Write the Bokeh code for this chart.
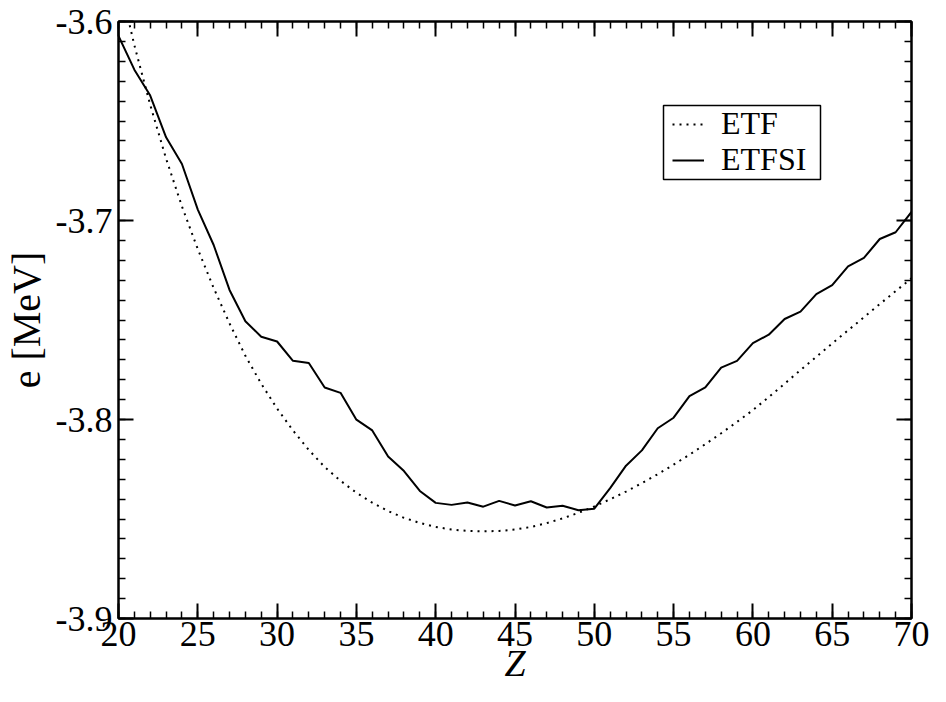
from bokeh.plotting import figure
from bokeh.models import (LinearAxis, FixedTicker, Range1d, Legend, LegendItem,
                          PrintfTickFormatter, BoxAnnotation)
from bokeh.embed import file_html
from bokeh.resources import INLINE

Z = list(range(20, 71))

etf = [-3.5779, -3.6119, -3.6419, -3.6689, -3.6929, -3.7144, -3.7339, -3.7517, -3.7680, -3.7820,
       -3.7945, -3.8055, -3.8153, -3.8239, -3.8308, -3.8368, -3.8418, -3.8460, -3.8494, -3.8520,
       -3.8540, -3.8553, -3.8560, -3.8562, -3.8560, -3.8553, -3.8540, -3.8521, -3.8497, -3.8469,
       -3.8437, -3.8401, -3.8362, -3.8320, -3.8275, -3.8227, -3.8177, -3.8124, -3.8069, -3.8012,
       -3.7953, -3.7887, -3.7820, -3.7752, -3.7685, -3.7618, -3.7552, -3.7486, -3.7420, -3.7355,
       -3.7290]

etfsi = [-3.6073, -3.6242, -3.6372, -3.6582, -3.6716, -3.6945, -3.7123, -3.7349, -3.7506, -3.7584,
         -3.7608, -3.7705, -3.7716, -3.7839, -3.7866, -3.8001, -3.8055, -3.8186, -3.8259, -3.8359,
         -3.8419, -3.8429, -3.8417, -3.8438, -3.8409, -3.8432, -3.8411, -3.8442, -3.8433, -3.8456,
         -3.8448, -3.8345, -3.8232, -3.8155, -3.8044, -3.7991, -3.7883, -3.7839, -3.7739, -3.7705,
         -3.7616, -3.7574, -3.7495, -3.7458, -3.7370, -3.7325, -3.7231, -3.7188, -3.7093, -3.7059,
         -3.6957]

series_names = ["ETF", "ETFSI"]
x_major = [20, 25, 30, 35, 40, 45, 50, 55, 60, 65, 70]
x_minor = list(range(20, 71))
y_major = [-3.9, -3.8, -3.7, -3.6]
y_minor = [round(-3.9 + 0.01 * i, 2) for i in range(31)]

FONT = "Liberation Serif"
QFONT = "'Liberation Serif'"
TICK_SIZE = "36px"

W, H = 930, 686
BORDER_BOTTOM = 68
FB = H - BORDER_BOTTOM  # frame bottom on the canvas

p = figure(width=W, height=H, output_backend="svg", toolbar_location=None,
           x_range=Range1d(20, 70), y_range=Range1d(-3.9, -3.6),
           x_axis_location=None, y_axis_location=None)
p.min_border_left = 118
p.min_border_right = 19
p.min_border_top = 21
p.min_border_bottom = BORDER_BOTTOM
p.grid.visible = False
p.outline_line_color = "black"
p.outline_line_width = 2
p.background_fill_color = "white"
p.border_fill_color = "white"

def style_axis(ax, show_labels):
    ax.axis_line_width = 2
    ax.axis_line_color = "black"
    ax.major_tick_in = 15
    ax.major_tick_out = 0
    ax.minor_tick_in = 7
    ax.minor_tick_out = 0
    ax.major_tick_line_width = 2
    ax.minor_tick_line_width = 1.5
    ax.major_label_text_font = QFONT
    ax.major_label_text_font_size = TICK_SIZE
    ax.major_label_text_color = "black"
    ax.major_label_text_line_height = 1.0
    if not show_labels:
        ax.major_label_text_alpha = 0
        ax.major_label_text_font_size = "0px"
        ax.major_label_standoff = 0

bottom = LinearAxis(ticker=FixedTicker(ticks=x_major, minor_ticks=x_minor))
style_axis(bottom, True)
bottom.major_label_standoff = 3
bottom.axis_label = "Z"
bottom.axis_label_text_font = QFONT
bottom.axis_label_text_font_style = "italic"
bottom.axis_label_text_font_size = "38px"
bottom.axis_label_text_color = "black"
bottom.axis_label_text_line_height = 1.0
bottom.axis_label_standoff = -7
p.add_layout(bottom, "below")

top = LinearAxis(ticker=FixedTicker(ticks=x_major, minor_ticks=x_minor))
style_axis(top, False)
p.add_layout(top, "above")

left = LinearAxis(ticker=FixedTicker(ticks=y_major, minor_ticks=y_minor),
                  formatter=PrintfTickFormatter(format="%.1f"))
style_axis(left, True)
left.major_label_standoff = 6
left.axis_label = "e [MeV]"
left.axis_label_text_font = QFONT
left.axis_label_text_font_style = "normal"
left.axis_label_text_font_size = "40px"
left.axis_label_text_color = "black"
left.axis_label_standoff = 4
p.add_layout(left, "left")

right = LinearAxis(ticker=FixedTicker(ticks=y_major, minor_ticks=y_minor))
style_axis(right, False)
p.add_layout(right, "right")

r_etf = p.line(Z, etf, line_color="black", line_width=2, line_dash="2 5")
r_etfsi = p.line(Z, etfsi, line_color="black", line_width=2)

# legend: one entry per Legend so that the rows sit close together, plus a framing box
ROW_H = 36
def make_legend(name, rend, center_canvas):
    lg = Legend(items=[LegendItem(label=name, renderers=[rend])],
                location=(554, FB - (center_canvas + ROW_H // 2)))
    lg.label_text_font = FONT
    lg.label_text_font_size = "32px"
    lg.label_text_color = "black"
    lg.label_standoff = 17
    lg.glyph_width = 32
    lg.glyph_height = ROW_H
    lg.label_height = ROW_H
    lg.padding = 0
    lg.margin = 0
    lg.border_line_alpha = 0
    lg.background_fill_alpha = 0
    return lg

p.add_layout(make_legend(series_names[0], r_etf, 124), "center")
p.add_layout(make_legend(series_names[1], r_etfsi, 160), "center")
p.add_layout(BoxAnnotation(left=663, right=820, top=105, bottom=179,
                           left_units="canvas", right_units="canvas",
                           top_units="canvas", bottom_units="canvas",
                           fill_alpha=0, line_color="black", line_alpha=1, line_width=1.5))

open("out.html", "w").write(file_html(p, INLINE))
